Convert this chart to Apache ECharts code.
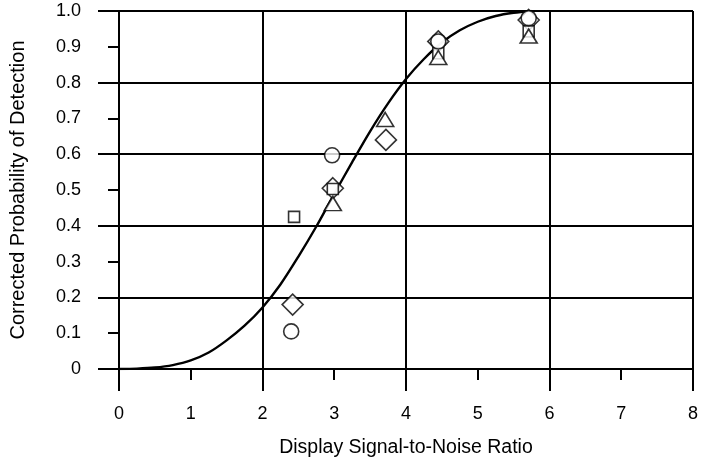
<!DOCTYPE html>
<html>
<head>
<meta charset="utf-8">
<script src="https://cdn.jsdelivr.net/npm/echarts@6/dist/echarts.min.js"></script>
<style>
html,body{margin:0;padding:0;background:#fff;}
#c{width:701px;height:463px;}
</style>
</head>
<body>
<div id="c"></div>
<script>
// Fitted curve
const curveX = [0, 0.25, 0.5, 0.75, 1.0, 1.25, 1.5, 1.75, 2.0, 2.25, 2.5, 2.75, 3.0, 3.25, 3.5, 3.75, 4.0, 4.25, 4.5, 4.75, 5.0, 5.25, 5.5, 5.75];
const curveY = [0, 0.001, 0.004, 0.011, 0.024, 0.046, 0.080, 0.121, 0.172, 0.236, 0.314, 0.398, 0.489, 0.578, 0.664, 0.742, 0.810, 0.866, 0.912, 0.946, 0.970, 0.986, 0.995, 1.0];

// Observed points
const circleX = [2.40, 2.97, 4.45, 5.71];
const circleY = [0.105, 0.597, 0.915, 0.980];
const squareX = [2.44, 2.98, 4.45, 5.71];
const squareY = [0.425, 0.503, 0.882, 0.943];
const diamondX = [2.42, 2.98, 3.72, 4.45, 5.71];
const diamondY = [0.180, 0.505, 0.640, 0.915, 0.975];
const triangleX = [2.98, 3.71, 4.45, 5.71];
const triangleY = [0.462, 0.697, 0.870, 0.930];

const xTitle = 'Display Signal-to-Noise Ratio';
const yTitle = 'Corrected Probability of Detection';

const zip = (xs, ys) => xs.map((x, i) => [x, ys[i]]);
const font = 'Liberation Sans, Arial, Helvetica, sans-serif';
const black = '#000';

const chart = echarts.init(document.getElementById('c'), null, {renderer: 'canvas'});

function markerSeries(name, symbol, size, xs, ys, z) {
  return {
    name, type: 'scatter', symbol, symbolSize: size,
    data: zip(xs, ys), z,
    itemStyle: {color: '#fff', borderColor: black, borderWidth: 1.6},
    emphasis: {disabled: true}
  };
}

chart.setOption({
  animation: false,
  backgroundColor: '#fff',
  grid: {left: 118, right: 5, top: 11, bottom: 92, containLabel: false},
  xAxis: [
    {
      type: 'value', min: 0, max: 8, interval: 1, position: 'bottom',
      name: xTitle, nameLocation: 'middle', nameGap: 69,
      nameTextStyle: {color: black, fontSize: 19.5, fontFamily: font},
      axisLine: {show: true, onZero: false, lineStyle: {color: black, width: 2}},
      axisTick: {show: true, inside: false, length: 11, lineStyle: {color: black, width: 2}},
      axisLabel: {color: black, fontSize: 18, fontFamily: font, margin: 36},
      splitLine: {show: false}
    },
    {
      type: 'value', min: 0, max: 8, interval: 2, position: 'bottom',
      axisLine: {show: false},
      axisTick: {show: true, inside: false, length: 22, lineStyle: {color: black, width: 2}},
      axisLabel: {show: false},
      splitLine: {show: true, lineStyle: {color: black, width: 2}}
    }
  ],
  yAxis: [
    {
      type: 'value', min: 0, max: 1, interval: 0.1, position: 'left',
      name: yTitle, nameLocation: 'middle', nameGap: 91, nameRotate: 90,
      nameTextStyle: {color: black, fontSize: 20, fontFamily: font},
      axisLine: {show: true, onZero: false, lineStyle: {color: black, width: 2}},
      axisTick: {show: true, inside: false, length: 11, lineStyle: {color: black, width: 2}},
      axisLabel: {
        color: black, fontSize: 18, fontFamily: font, margin: 38,
        formatter: v => (v === 0 ? '0' : v.toFixed(1))
      },
      splitLine: {show: false}
    },
    {
      type: 'value', min: 0, max: 1, interval: 0.2, position: 'left',
      axisLine: {show: false},
      axisTick: {show: true, inside: false, length: 21, lineStyle: {color: black, width: 2}},
      axisLabel: {show: false},
      splitLine: {show: true, lineStyle: {color: black, width: 2}}
    }
  ],
  series: [
    {
      name: 'fit', type: 'line', smooth: 0.3, showSymbol: false, symbol: 'none',
      data: zip(curveX, curveY), z: 3,
      lineStyle: {color: black, width: 2.4},
      emphasis: {disabled: true}
    },
    markerSeries('diamond', 'diamond', 21, diamondX, diamondY, 4),
    markerSeries('square', 'rect', 11, squareX, squareY, 5),
    markerSeries('triangle', 'triangle', [17, 14], triangleX, triangleY, 6),
    markerSeries('circle', 'circle', 15, circleX, circleY, 7)
  ]
});
</script>
</body>
</html>
